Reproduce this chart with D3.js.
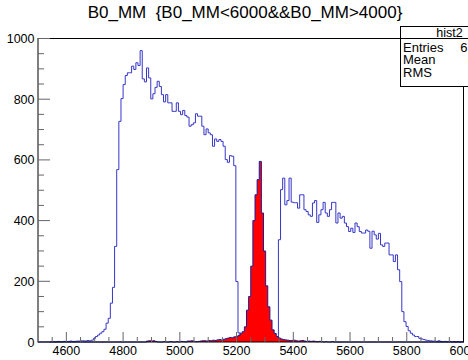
<!DOCTYPE html>
<html>
<head>
<meta charset="utf-8">
<script src="https://cdn.jsdelivr.net/npm/d3@7"></script>
<style>
  html, body { margin: 0; padding: 0; background: #fff; }
  svg { display: block; }
</style>
</head>
<body>
<div id="chart"></div>
<script>
// B0_MM histogram, ROOT-style canvas, 200 bins over 4500..6000

const X_MIN = 4500, X_MAX = 6000, N_BINS = 200;
const X_TICKS = [4600, 4800, 5000, 5200, 5400, 5600, 5800, 6000];
const Y_TICKS = [0, 200, 400, 600, 800, 1000];

// all candidates (blue outline)
const allCounts = [
  0, 1, 0, 0, 1, 0, 1, 1, 0, 2,
  1, 1, 2, 1, 2, 3, 2, 2, 3, 3,
  4, 4, 3, 5, 4, 6, 12, 18, 23, 29,
  34, 42, 62, 78, 128, 180, 315, 568, 727, 802,
  848, 878, 887, 887, 909, 898, 920, 911, 960, 867,
  857, 903, 870, 801, 818, 839, 859, 842, 815, 791,
  815, 788, 788, 760, 760, 788, 760, 749, 763, 746,
  741, 711, 716, 722, 752, 744, 744, 711, 683, 702,
  689, 683, 645, 669, 661, 667, 661, 645, 601, 592,
  614, 612, 581, 199, 30, 22, 20, 18, 15, 16,
  14, 12, 13, 12, 11, 12, 10, 11, 12, 10,
  12, 14, 15, 337, 502, 540, 452, 466, 540, 461,
  459, 459, 441, 485, 485, 436, 430, 419, 414, 458,
  466, 394, 419, 436, 460, 425, 414, 436, 460, 460,
  392, 425, 408, 414, 392, 380, 364, 375, 361, 392,
  380, 364, 359, 359, 369, 365, 309, 365, 353, 339,
  358, 320, 315, 326, 326, 287, 287, 265, 287, 238,
  199, 100, 67, 51, 37, 29, 23, 18, 18, 12,
  10, 8, 6, 5, 4, 3, 3, 2, 4, 2,
  1, 2, 1, 2, 1, 1, 0, 1, 0, 1
];

// selected signal (red filled)
const sigCounts = [
  0, 0, 0, 0, 0, 0, 0, 0, 0, 0,
  0, 0, 0, 0, 0, 0, 0, 0, 0, 0,
  0, 0, 0, 0, 0, 0, 0, 0, 0, 0,
  0, 0, 0, 0, 0, 0, 0, 0, 0, 0,
  0, 0, 0, 0, 0, 0, 0, 0, 0, 0,
  0, 3, 4, 3, 4, 2, 0, 0, 0, 1,
  0, 0, 1, 0, 0, 1, 0, 2, 1, 0,
  3, 3, 4, 2, 1, 2, 3, 4, 4, 3,
  5, 4, 6, 5, 7, 8, 6, 9, 11, 13,
  15, 14, 17, 18, 22, 29, 34, 50, 105, 150,
  250, 400, 485, 535, 595, 425, 300, 185, 116, 72,
  40, 28, 18, 13, 10, 8, 7, 6, 5, 5,
  6, 4, 3, 4, 5, 3, 2, 3, 2, 3,
  2, 1, 2, 1, 0, 1, 0, 0, 1, 0,
  0, 0, 0, 0, 0, 0, 0, 0, 0, 0,
  0, 0, 0, 0, 0, 0, 0, 0, 0, 0,
  0, 0, 0, 0, 0, 0, 0, 0, 0, 0,
  0, 0, 0, 0, 0, 0, 0, 0, 0, 0,
  0, 0, 0, 0, 0, 0, 0, 0, 0, 0,
  0, 0, 0, 0, 0, 0, 0, 0, 0, 0
];

const W = 468, H = 360;
const m = { t: 38.5, r: 4.5, b: 18, l: 38 };
const FONT = 'Liberation Sans, Arial, Helvetica, sans-serif';

const svg = d3.select('#chart').append('svg')
  .attr('width', W).attr('height', H)
  .attr('viewBox', `0 0 ${W} ${H}`);

svg.append('rect').attr('width', W).attr('height', H).attr('fill', '#fff');

const x = d3.scaleLinear().domain([X_MIN, X_MAX]).range([m.l, W - m.r]);
const y = d3.scaleLinear().domain([0, 1000]).range([H - m.b, m.t]);

const binW = (X_MAX - X_MIN) / N_BINS;
const toSteps = arr => {
  const pts = arr.map((v, i) => ({ x: X_MIN + i * binW, v }));
  pts.push({ x: X_MAX, v: arr[arr.length - 1] });
  return pts;
};

const plot = svg.append('g');

// blue outline histogram
plot.append('path')
  .datum(toSteps(allCounts))
  .attr('fill', 'none')
  .attr('stroke', '#3636c8')
  .attr('stroke-width', 1)
  .attr('d', d3.line().x(d => x(d.x)).y(d => y(d.v)).curve(d3.curveStepAfter));

// red filled histogram
const sig = toSteps(sigCounts);
plot.append('path')
  .datum(sig)
  .attr('fill', '#ff0000')
  .attr('d', d3.area().x(d => x(d.x)).y0(y(0)).y1(d => y(d.v)).curve(d3.curveStepAfter));
plot.append('path')
  .datum(sig)
  .attr('fill', 'none')
  .attr('stroke', '#1c1c96')
  .attr('stroke-width', 1)
  .attr('d', d3.line().x(d => x(d.x)).y(d => y(d.v)).curve(d3.curveStepAfter));

// frame
svg.append('rect')
  .attr('x', x(X_MIN)).attr('y', y(1000))
  .attr('width', x(X_MAX) - x(X_MIN)).attr('height', y(0) - y(1000))
  .attr('fill', 'none').attr('stroke', '#000').attr('stroke-width', 1);

// ticks point inward, ROOT style
const xMinor = d3.range(4550, 6000, 50).filter(v => v % 200 !== 0);
const ax = svg.append('g').attr('stroke', '#666').attr('stroke-width', 1);
ax.selectAll('line.xmaj').data(X_TICKS.filter(v => v < X_MAX)).join('line')
  .attr('x1', d => x(d)).attr('x2', d => x(d))
  .attr('y1', y(0)).attr('y2', y(0) - 10);
ax.selectAll('line.xmin').data(xMinor).join('line')
  .attr('x1', d => x(d)).attr('x2', d => x(d))
  .attr('y1', y(0)).attr('y2', y(0) - 5);

const yMinor = d3.range(50, 1000, 50).filter(v => v % 200 !== 0);
ax.selectAll('line.ymaj').data(Y_TICKS).join('line')
  .attr('x1', x(X_MIN)).attr('x2', x(X_MIN) + 12)
  .attr('y1', d => y(d)).attr('y2', d => y(d));
ax.selectAll('line.ymin').data(yMinor).join('line')
  .attr('x1', x(X_MIN)).attr('x2', x(X_MIN) + 6)
  .attr('y1', d => y(d)).attr('y2', d => y(d));

// tick labels
svg.append('g').selectAll('text').data(X_TICKS).join('text')
  .attr('x', d => x(d)).attr('y', H - 5)
  .attr('text-anchor', 'middle')
  .attr('font-family', FONT).attr('font-size', 12.5).attr('fill', '#000')
  .text(d => d);
svg.append('g').selectAll('text').data(Y_TICKS).join('text')
  .attr('x', x(X_MIN) - 3.5).attr('y', d => y(d)).attr('dy', '0.36em')
  .attr('text-anchor', 'end')
  .attr('font-family', FONT).attr('font-size', 12.5).attr('fill', '#000')
  .text(d => d);

// title
svg.append('text')
  .attr('x', 245).attr('y', 18)
  .attr('text-anchor', 'middle')
  .attr('font-family', FONT).attr('font-size', 17).attr('fill', '#000')
  .style('white-space', 'pre')
  .text('B0_MM  {B0_MM<6000&&B0_MM>4000}');

// stats box (runs off the right edge like the original canvas)
const centers = allCounts.map((v, i) => X_MIN + (i + 0.5) * binW);
const entries = d3.sum(allCounts);
const mean = d3.sum(allCounts, (v, i) => v * centers[i]) / entries;
const rms = Math.sqrt(d3.sum(allCounts, (v, i) => v * (centers[i] - mean) ** 2) / entries);

const sb = svg.append('g');
const bx = 400.5, bw = 98, by = 26.5, bh = 60;
sb.append('rect').attr('x', bx).attr('y', by).attr('width', bw).attr('height', bh)
  .attr('fill', '#fff').attr('stroke', '#000').attr('stroke-width', 1);
sb.append('line').attr('x1', bx).attr('x2', bx + bw).attr('y1', by + 12).attr('y2', by + 12)
  .attr('stroke', '#000').attr('stroke-width', 1);
sb.append('text').attr('x', bx + bw / 2).attr('y', by + 10.5).attr('text-anchor', 'middle')
  .attr('font-family', FONT).attr('font-size', 12.5).text('hist2');
const rows = [['Entries', d3.format('d')(entries)], ['Mean', mean.toFixed(0)], ['RMS', rms.toFixed(0)]];
rows.forEach(([k, v], i) => {
  const ty = by + 25 + i * 12.6;
  sb.append('text').attr('x', bx + 2.5).attr('y', ty)
    .attr('font-family', FONT).attr('font-size', 13).text(k);
  sb.append('text').attr('x', bx + bw - 2).attr('y', ty).attr('text-anchor', 'end')
    .attr('font-family', FONT).attr('font-size', 13).text(v);
});
</script>
</body>
</html>
